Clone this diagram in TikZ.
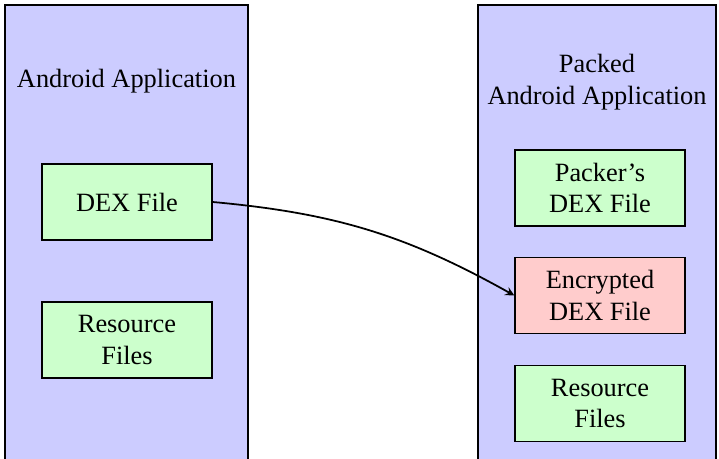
\documentclass[tikz,border=0pt]{standalone}
\usepackage{fontspec}
\setmainfont{Liberation Serif}
\tikzset{
  panel/.style={draw=black, semithick, fill=blue!20},
  filebox/.style={draw=black, semithick, fill=green!20, minimum width=77.4pt, minimum height=34.5pt, align=center},
  encbox/.style={filebox, fill=red!20},
}
\begin{document}
\begin{tikzpicture}[x=0.455pt, y=0.455pt, font=\fontsize{12}{14.5}\selectfont]
    \useasboundingbox (0,0) rectangle (719,458);
    \clip (0,0) rectangle (719,458);
    %% original application
    \draw[panel] (5,453) rectangle (248,-20);
    \node (app) at (126.5,377) {Android Application};
    \node[filebox] (dex) at (127,256) {DEX File};
    \node[filebox] (res) at (127,118) {Resource\\Files};
    %% packed application
    \draw[panel] (478,453) rectangle (716,-20);
    \node[align=center] (packed) at (597,376) {Packed\\Android Application};
    \node[filebox] (packer) at (600,270) {Packer's\\DEX File};
    \node[encbox] (enc) at (600,162.5) {Encrypted\\DEX File};
    \node[filebox] (pres) at (600,54.5) {Resource\\Files};
    %% encryption
    \draw[thick,-stealth] (dex.east) to[bend left=12] (enc.west);
\end{tikzpicture}
\end{document}
